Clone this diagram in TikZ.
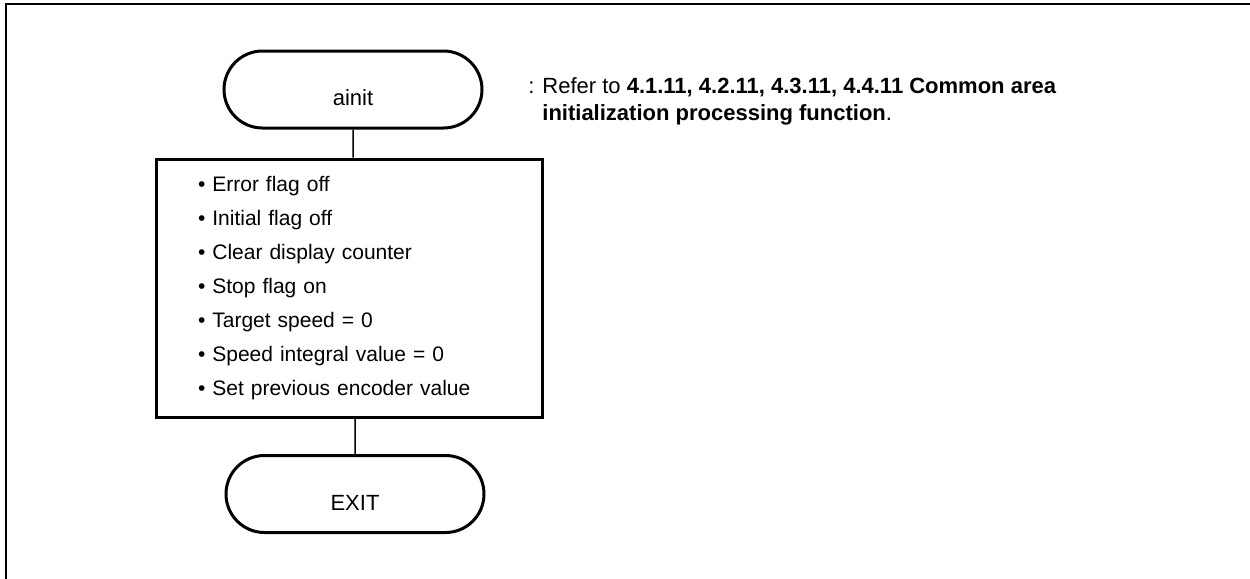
\documentclass[tikz,border=0pt]{standalone}
\usepackage{fontspec}
\setmainfont{Liberation Sans}
\usetikzlibrary{shapes.misc}
\tikzset{
 term/.style={draw,rounded rectangle,line width=1.5pt,minimum width=129pt,minimum height=38.5pt,text height=16pt,text depth=0pt,inner sep=0pt},
 procbox/.style={draw,rectangle,line width=1.5pt,minimum width=193pt,minimum height=129pt,text width=151pt,inner xsep=21pt,align=left,font=\fontsize{10.5}{17}\selectfont},
 link/.style={line width=.75pt},
 frameline/.style={line width=1pt},
}

\begin{document}
\begin{tikzpicture}[x=.5pt,y=-.5pt,font=\fontsize{11}{17}\selectfont]
\useasboundingbox (0,0) rectangle (1250,579);
% page frame (top and left only)
\draw[frameline] (5.5,579) -- (5.5,3.5) -- (1250,3.5);
% flow
\node[term] (ainit) at (353,89.5) {ainit};
\node[procbox] (init) at (349,288) {\textbullet\ Error flag off\\
 \textbullet\ Initial flag off\\
 \textbullet\ Clear display counter\\
 \textbullet\ Stop flag on\\
 \textbullet\ Target speed = 0\\
 \textbullet\ Speed integral value = 0\\
 \textbullet\ Set previous encoder value};
\node[term] (exit) at (355,494) {EXIT};
\draw[link] (ainit) -- (ainit |- init.north);
\draw[link] (init.south -| exit) -- (exit);
% note
\node[anchor=north west,inner sep=0pt,align=left,font=\fontsize{11}{13.5}\selectfont] (note) at (542,77)
 {\llap{:\hspace{4pt}}Refer to \textbf{4.1.11, 4.2.11, 4.3.11, 4.4.11 Common area}\\
 \textbf{initialization processing function}.};
\end{tikzpicture}
\end{document}
